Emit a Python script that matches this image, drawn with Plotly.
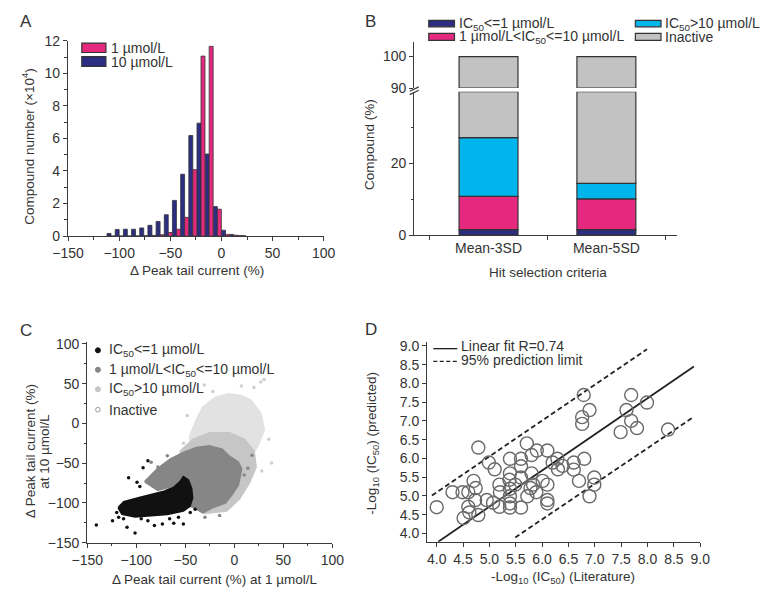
import plotly.graph_objects as go

W, H = 771, 600
FONT = "Liberation Sans, Arial, sans-serif"
TXT = "#333333"
AX = "#3a3a3a"

# ---------------- Panel A data (x10^4 compounds) ----------------
a_bin_centers = [-108, -100, -92, -84, -76, -68, -60, -52, -44, -36, -28, -20, -12, -4, 4, 12, 20]
a_10um = [0.16, 0.40, 0.42, 0.42, 0.50, 0.66, 0.90, 1.31, 2.19, 3.80, 6.18, 6.94, 5.04, 1.81, 0.36, 0.10, 0.03]
a_1um = [0.0, 0.0, 0.0, 0.01, 0.02, 0.04, 0.08, 0.22, 0.42, 1.15, 4.08, 11.06, 11.66, 1.65, 0.10, 0.05, 0.02]
a_labels = ["1 µmol/L", "10 µmol/L"]

# ---------------- Panel B data (%) ----------------
b_categories = ["Mean-3SD", "Mean-5SD"]
b_ic_le1 = [1.5, 1.5]
b_ic_1_10 = [9.3, 8.6]
b_ic_gt10 = [16.4, 4.3]
b_inactive = [72.8, 85.6]
b_break = [40, 90]
b_names = ["IC<sub>50</sub>&lt;=1 µmol/L", "1 µmol/L&lt;IC<sub>50</sub>&lt;=10 µmol/L",
           "IC<sub>50</sub>&gt;10 µmol/L", "Inactive"]

# ---------------- Panel C data (cloud outlines + outliers) ----------------
c_pale_x = [-45.4, -38.8, -32.2, -19.1, -5.9, 7.2, 17.1, 27.0, 30.3, 23.7, 13.8, -5.0, -25.0, -45.0]
c_pale_y = [-16.3, 4.1, 20.4, 32.7, 36.8, 34.7, 28.6, 12.3, -8.1, -28.5, -48.9, -40.0, -30.0, -32.0]
c_light_x = [-55, -42, -25, -5, 10, 20, 22, 15, 5, -8, -30, -50]
c_light_y = [-35, -20, -12, -12, -20, -35, -55, -75, -95, -110, -113, -100]
c_dark_x = [-91.4, -78.3, -65.1, -52.0, -38.8, -25.7, -12.5, -5.9, 3.9, 7.2, 3.9, -2.6, -9.2, -22.4, -32.2, -40.5, -45.4, -60.0, -78.0]
c_dark_y = [-73.4, -57.1, -44.8, -36.7, -30.6, -28.5, -32.6, -40.8, -48.9, -57.1, -77.5, -89.7, -99.9, -106.0, -112.2, -106.0, -104.0, -78.0, -84.0]
c_black_x = [-118.4, -112.8, -98.0, -84.9, -71.7, -61.8, -55.3, -52.0, -47.0, -43.8, -42.8, -45.4, -52.0, -68.4, -84.9, -101.3, -114.5]
c_black_y = [-106.0, -98.7, -93.8, -89.7, -85.6, -80.7, -73.4, -67.3, -71.4, -81.6, -93.8, -104.0, -110.0, -114.2, -116.2, -117.5, -114.2]
c_black_out_x = [-140.8, -124.3, -118.0, -109.5, -101.3, -88.2, -81.6, -73.4, -61.8, -52.0, -107.9, -96.4, -88.2, -93.1, -99.3, -104.0, -120.0, -95.0, -66.0, -57.0, -45.0, -40.0, -113.0]
c_black_out_y = [-127.7, -122.4, -118.0, -130.5, -137.9, -122.4, -128.5, -126.4, -125.6, -126.4, -68.5, -79.5, -46.9, -55.9, -74.2, -111.0, -112.0, -120.0, -120.0, -118.0, -112.0, -108.0, -120.0]
c_dark_out_x = [-68.4, -65.1, -78.0, -84.9, -72.0, 13.8, 10.0, -58.0, -30.0, -15.0, 18.0]
c_dark_out_y = [-40.8, -49.0, -55.0, -48.9, -62.0, -56.3, -65.0, -52.0, -118.0, -116.0, -40.0]
c_light_out_x = [-30.6, 7.2, 30.3, 27.0, 20.0, -22.0, -48.0, 35.0, 38.0, -52.0, 28.0]
c_light_out_y = [48.2, 47.0, 55.1, 52.0, 45.0, 40.0, 10.0, -20.0, -50.0, -25.0, -60.0]
c_names = ["IC<sub>50</sub>&lt;=1 µmol/L", "1 µmol/L&lt;IC<sub>50</sub>&lt;=10 µmol/L",
           "IC<sub>50</sub>&gt;10 µmol/L", "Inactive"]

# ---------------- Panel D data ----------------
d_x = [4.0, 4.30, 4.49, 4.60, 4.70, 4.74, 4.73, 4.60, 4.51, 4.62, 4.79, 4.79, 4.99, 5.10, 4.95, 5.07,
       5.19, 5.20, 5.19, 5.39, 5.39, 5.38, 5.39, 5.39, 5.39, 5.39, 5.49, 5.60, 5.60, 5.60, 5.60, 5.71,
       5.72, 5.80, 5.80, 5.78, 5.83, 5.90, 5.89, 6.01, 6.10, 6.10, 6.10, 6.10, 6.20, 6.29, 6.30, 6.39,
       6.60, 6.60, 6.70, 6.79, 6.76, 6.76, 6.80, 6.90, 6.90, 6.99, 6.99, 7.49, 7.60, 7.69, 7.69, 7.80,
       7.99, 8.39]
d_y = [4.70, 5.10, 5.10, 5.10, 5.40, 5.21, 4.89, 4.71, 4.41, 4.56, 4.49, 6.29, 5.89, 5.71, 4.89, 4.82,
       5.30, 5.10, 4.71, 5.99, 5.60, 5.43, 5.19, 4.99, 4.80, 4.69, 5.30, 5.99, 5.79, 5.49, 4.69, 6.40,
       4.99, 6.09, 5.60, 5.21, 5.30, 6.21, 5.10, 5.40, 6.21, 5.30, 4.89, 4.80, 5.89, 5.99, 5.71, 5.80,
       5.89, 5.70, 5.40, 7.69, 7.10, 6.92, 5.99, 7.29, 4.99, 5.49, 5.30, 6.70, 7.29, 7.69, 7.00, 6.81,
       7.49, 6.77]
d_fit_x = [4.03, 8.88]
d_fit_y = [3.78, 8.45]
d_upper_x = [3.91, 7.99]
d_upper_y = [5.01, 8.91]
d_lower_x = [5.49, 8.88]
d_lower_y = [3.89, 7.11]
d_names = ["Linear fit R=0.74", "95% prediction limit"]

# ---------------- colours ----------------
PINK = "#E5297E"
NAVY = "#2D2D84"
CYAN = "#00B5EC"
GRAY = "#C2C2C2"
OUT = "#333333"


def px(x):
    return x / W


def py(y):
    return 1 - y / H


def axis(dom0, dom1, rng, vertical, **kw):
    if vertical:
        d = [py(dom1), py(dom0)]
    else:
        d = [px(dom0), px(dom1)]
    base = dict(domain=d, range=rng, showline=True, linecolor=AX, linewidth=1.2,
                ticks="outside", ticklen=4, tickwidth=1, tickcolor=AX, showgrid=False,
                zeroline=False, tickfont=dict(size=14, color=TXT, family=FONT))
    base.update(kw)
    return base


fig = go.Figure()

# ---- Panel A ----
fig.add_trace(go.Bar(x=a_bin_centers, y=a_10um, offset=-3.9, width=3.9, marker=dict(color=NAVY, line=dict(color=OUT, width=0.8)),
                     name=a_labels[1], showlegend=False, xaxis="x", yaxis="y"))
fig.add_trace(go.Bar(x=a_bin_centers, y=a_1um, offset=0.0, width=3.9, marker=dict(color=PINK, line=dict(color=OUT, width=0.8)),
                     name=a_labels[0], showlegend=False, xaxis="x", yaxis="y"))

# ---- Panel B ----
lower_top, upper_bot = b_break
series = [(b_ic_le1, NAVY), (b_ic_1_10, PINK), (b_ic_gt10, CYAN), (b_inactive, GRAY)]
cum = [0.0, 0.0]
for vals, col in series:
    base = list(cum)
    top = [b + v for b, v in zip(base, vals)]
    h_low = [min(t, lower_top) - b for t, b in zip(top, base)]
    fig.add_trace(go.Bar(x=b_categories, y=h_low, base=base, width=0.5,
                         marker=dict(color=col, line=dict(color=OUT, width=1.2)),
                         showlegend=False, xaxis="x2", yaxis="y2"))
    if any(t > upper_bot for t in top):
        h_up = [t - upper_bot for t in top]
        fig.add_trace(go.Bar(x=b_categories, y=h_up, base=[upper_bot] * len(top), width=0.5,
                             marker=dict(color=col, line=dict(color=OUT, width=1.2)),
                             showlegend=False, xaxis="x3", yaxis="y3"))
    cum = top

# ---- Panel C ----
for xs, ys, col in [(c_pale_x, c_pale_y, "#E2E2E2"), (c_light_x, c_light_y, "#C6C6C6"),
                    (c_dark_x, c_dark_y, "#868686"), (c_black_x, c_black_y, "#111111")]:
    fig.add_trace(go.Scatter(x=xs + xs[:1], y=ys + ys[:1], mode="lines", fill="toself", fillcolor=col,
                             line=dict(color=col, width=2), showlegend=False, hoverinfo="skip",
                             xaxis="x4", yaxis="y4"))
for xs, ys, col in [(c_light_out_x, c_light_out_y, "#CFCFCF"), (c_dark_out_x, c_dark_out_y, "#868686"),
                    (c_black_out_x, c_black_out_y, "#111111")]:
    fig.add_trace(go.Scatter(x=xs, y=ys, mode="markers", marker=dict(color=col, size=3.5),
                             showlegend=False, xaxis="x4", yaxis="y4"))

# ---- Panel D ----
fig.add_trace(go.Scatter(x=d_fit_x, y=d_fit_y, mode="lines", line=dict(color="#222222", width=1.8),
                         showlegend=False, xaxis="x5", yaxis="y5"))
for xs, ys in [(d_upper_x, d_upper_y), (d_lower_x, d_lower_y)]:
    fig.add_trace(go.Scatter(x=xs, y=ys, mode="lines", line=dict(color="#222222", width=1.8, dash="5px,3px"),
                             showlegend=False, xaxis="x5", yaxis="y5"))
fig.add_trace(go.Scatter(x=d_x, y=d_y, mode="markers",
                         marker=dict(symbol="circle-open", size=13, color="#6a6a6a", line=dict(width=1.4, color="#6a6a6a")),
                         showlegend=False, xaxis="x5", yaxis="y5"))

layout = dict(
    width=W, height=H, autosize=False, margin=dict(l=0, r=0, t=0, b=0),
    paper_bgcolor="white", plot_bgcolor="rgba(0,0,0,0)", barmode="overlay",
    font=dict(family=FONT, size=14, color=TXT),
    xaxis=axis(54, 319.3, [-150, 100], False, anchor="y", tick0=-150, dtick=50,
               minor=dict(ticks="outside", ticklen=2.5, dtick=25, tickcolor=AX)),
    yaxis=axis(33.7, 234.3, [0, 12], True, anchor="x", tick0=0, dtick=2,
               minor=dict(ticks="outside", ticklen=2.5, dtick=1, tickcolor=AX)),
    xaxis2=axis(413.3, 686, [-0.63, 1.6], False, anchor="y2", type="category", tickson="boundaries",
                categoryorder="array", categoryarray=b_categories),
    yaxis2=axis(86, 233.3, [0, lower_top], True, anchor="x2", tickvals=[0, 20],
                minor=dict(ticks="outside", ticklen=2.5, tickvals=[10, 30], tickcolor=AX)),
    xaxis3=dict(domain=[px(413.3), px(686)], range=[-0.63, 1.6], type="category", anchor="y3",
                visible=False, categoryorder="array", categoryarray=b_categories),
    yaxis3=axis(35, 82.3, [upper_bot, 104.6], True, anchor="x3", tickvals=[90, 100]),
    xaxis4=axis(74, 328.3, [-150, 100], False, anchor="y4", tick0=-150, dtick=50,
                minor=dict(ticks="outside", ticklen=2.5, dtick=25, tickcolor=AX)),
    yaxis4=axis(343, 549.3, [-150, 102.5], True, anchor="x4", tickvals=[-150, -100, -50, 0, 50, 100],
                minor=dict(ticks="outside", ticklen=2.5, tickvals=[-125, -75, -25, 25, 75], tickcolor=AX)),
    xaxis5=axis(426.7, 710, [3.82, 9.0], False, anchor="y5", tick0=4, dtick=0.5, tickformat=".1f"),
    yaxis5=axis(343.3, 548.3, [3.78, 9.1], True, anchor="x5", tick0=4, dtick=0.5, tickformat=".1f"),
)
fig.update_layout(**layout)

ann = []
shapes = []


def text(x, y, s, size=14, anchor="left", angle=0):
    ann.append(dict(x=px(x), y=py(y), xref="paper", yref="paper", text=s, showarrow=False,
                    xanchor=anchor, yanchor="middle", textangle=angle,
                    font=dict(size=size, color=TXT, family=FONT)))


def rect(x0, y0, x1, y1, col):
    shapes.append(dict(type="rect", xref="paper", yref="paper", x0=px(x0), x1=px(x1), y0=py(y1), y1=py(y0),
                       fillcolor=col, line=dict(color=OUT, width=1.2)))


def dot(x, y, r, col, open_=False):
    shapes.append(dict(type="circle", xref="paper", yref="paper", x0=px(x - r), x1=px(x + r),
                       y0=py(y + r), y1=py(y - r), fillcolor="white" if open_ else col,
                       line=dict(color=col, width=1)))


def seg(x0, y0, x1, y1, dash="solid", w=1.5, col="#222222"):
    shapes.append(dict(type="line", xref="paper", yref="paper", x0=px(x0), x1=px(x1), y0=py(y0), y1=py(y1),
                       line=dict(color=col, width=w, dash=dash)))


TS = 13.5  # axis-title size

# panel letters
text(10, 14, "A", 17, "center")
text(368, 14, "B", 17, "center")
text(10, 331, "C", 17, "center")
text(368, 330, "D", 17, "center")

# Panel A titles + legend
text(188, 270, "Δ Peak tail current (%)", TS, "center")
text(13, 143, "Compound number (×10<sup>4</sup>)", TS, "center", -90)
rect(68.3, 36, 93.3, 45.7, PINK)
rect(68.3, 50, 93.3, 60, NAVY)
text(96.5, 41, a_labels[0])
text(96.5, 55, a_labels[1])

# Panel B titles + legend
text(552, 272, "Hit selection criteria", TS, "center")
text(367, 140, "Compound (%)", TS, "center", -90)
rect(428.3, 12.7, 455, 19.3, NAVY)
rect(428.3, 26, 455, 33.3, PINK)
rect(642.7, 12.7, 669.3, 19.3, CYAN)
rect(642.7, 26, 669.3, 33.3, GRAY)
text(457.5, 16, b_names[0])
text(457.5, 30, b_names[1])
text(671.5, 16, b_names[2])
text(671.5, 30, b_names[3])
# axis break marks
seg(408.5, 85.5, 418, 81, w=1.2, col=AX)
seg(408.5, 89, 418, 84.5, w=1.2, col=AX)

# Panel C titles + legend
text(207, 587, "Δ Peak tail current (%) at 1 µmol/L", TS, "center")
text(15, 455, "Δ Peak tail current (%)", TS, "center", -90)
text(30, 455, "at 10 µmol/L", TS, "center", -90)
dot(85, 351.7, 2.6, "#111111")
dot(85, 371.7, 2.6, "#868686")
dot(85, 391.7, 2.6, "#C6C6C6")
dot(85, 412.7, 2.4, "#9a9a9a", open_=True)
for i, s in enumerate(c_names):
    text(94, [351.7, 371.7, 391.7, 412.7][i], s)

# Panel D titles + legend
text(568, 585, "-Log<sub>10</sub> (IC<sub>50</sub>) (Literature)", TS, "center")
text(370, 447, "-Log<sub>10</sub> (IC<sub>50</sub>) (predicted)", TS, "center", -90)
seg(433, 350, 458, 350, "solid", 1.3)
seg(433, 363, 458, 363, "4px,2.5px", 1.3)
text(460, 347.5, d_names[0])
text(460, 362, d_names[1])

fig.update_layout(annotations=ann, shapes=shapes)
fig.write_html("out.html", config={"displayModeBar": False},
               post_script="document.body.style.margin='0';document.body.style.padding='0';")
